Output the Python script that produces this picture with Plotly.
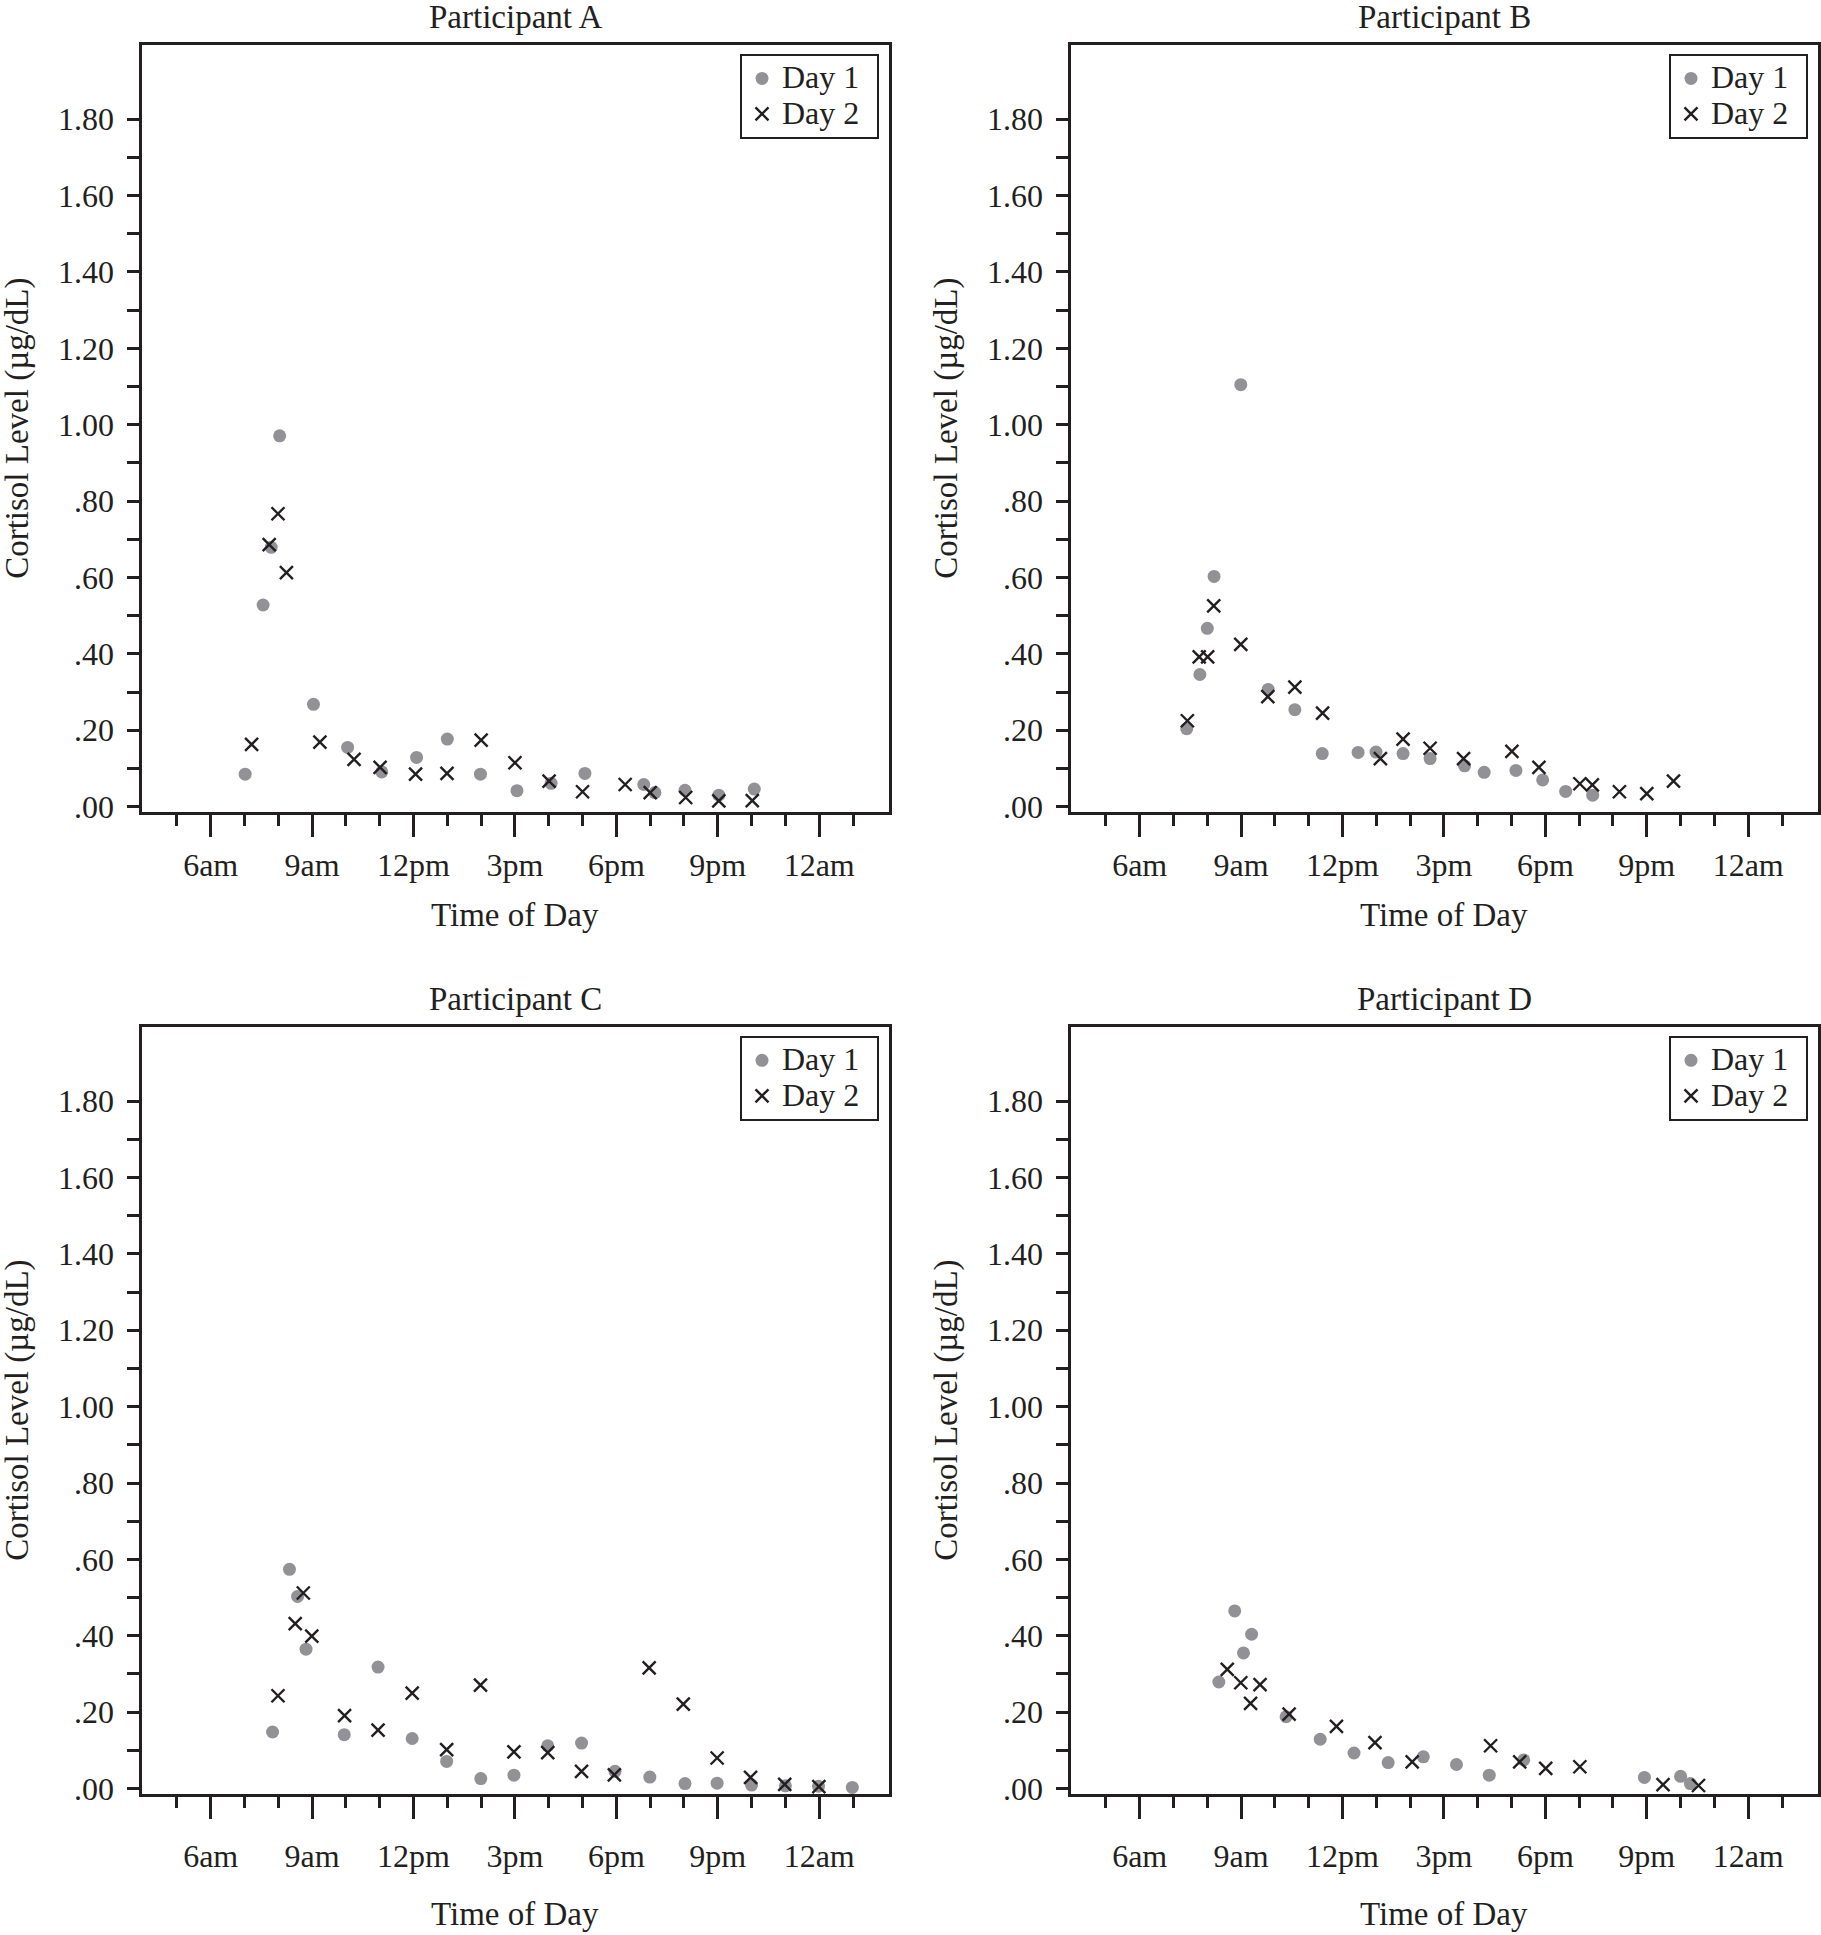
import plotly.graph_objects as go

# ---------------- data (time in hours of day, cortisol in µg/dL) ----------------
a_day1_time = [7.02, 7.55, 7.79, 8.04, 9.04, 10.05, 11.06, 12.09, 13.0, 13.98, 15.06, 16.07, 17.07, 18.81, 19.14, 20.03, 21.03, 22.08]
a_day1_val = [0.085, 0.528, 0.679, 0.971, 0.268, 0.155, 0.091, 0.129, 0.177, 0.085, 0.042, 0.061, 0.087, 0.058, 0.037, 0.043, 0.030, 0.046]
a_day2_time = [7.21, 7.73, 7.99, 8.24, 9.23, 10.24, 11.01, 12.06, 12.99, 14.0, 15.0, 16.01, 17.0, 18.26, 19.0, 20.05, 21.03, 22.02]
a_day2_val = [0.163, 0.686, 0.767, 0.613, 0.169, 0.124, 0.103, 0.085, 0.087, 0.174, 0.115, 0.067, 0.039, 0.058, 0.037, 0.024, 0.015, 0.016]

b_day1_time = [7.39, 7.78, 8.0, 8.20, 8.99, 9.80, 10.59, 11.40, 12.46, 12.99, 13.79, 14.59, 15.61, 16.19, 17.13, 17.92, 18.60, 19.40]
b_day1_val = [0.204, 0.346, 0.467, 0.603, 1.105, 0.307, 0.254, 0.139, 0.142, 0.143, 0.139, 0.126, 0.107, 0.090, 0.095, 0.070, 0.040, 0.030]
b_day2_time = [7.41, 7.76, 8.01, 8.19, 8.99, 9.79, 10.59, 11.41, 13.12, 13.79, 14.59, 15.58, 17.01, 17.81, 19.02, 19.39, 20.19, 21.0, 21.79]
b_day2_val = [0.225, 0.392, 0.392, 0.526, 0.425, 0.288, 0.313, 0.245, 0.126, 0.177, 0.153, 0.126, 0.145, 0.103, 0.060, 0.057, 0.039, 0.034, 0.067]

c_day1_time = [7.83, 8.33, 8.57, 8.82, 9.95, 10.95, 11.96, 12.98, 13.99, 14.97, 15.97, 16.97, 17.96, 18.99, 20.03, 20.98, 22.0, 23.0, 23.98, 24.98]
c_day1_val = [0.148, 0.574, 0.503, 0.365, 0.141, 0.318, 0.131, 0.071, 0.026, 0.035, 0.112, 0.119, 0.045, 0.030, 0.013, 0.014, 0.009, 0.007, 0.006, 0.003]
c_day2_time = [7.99, 8.50, 8.74, 8.99, 9.96, 10.95, 11.96, 12.98, 13.98, 14.97, 15.97, 16.97, 17.94, 18.97, 19.98, 20.98, 21.97, 22.98, 23.99]
c_day2_val = [0.243, 0.432, 0.512, 0.399, 0.191, 0.153, 0.250, 0.102, 0.271, 0.096, 0.094, 0.045, 0.036, 0.316, 0.221, 0.080, 0.029, 0.011, 0.005]

d_day1_time = [8.34, 8.81, 9.07, 9.31, 10.33, 11.34, 12.34, 13.35, 14.39, 15.37, 16.34, 17.36, 20.93, 22.0, 22.29]
d_day1_val = [0.279, 0.465, 0.355, 0.404, 0.188, 0.129, 0.093, 0.068, 0.083, 0.063, 0.035, 0.075, 0.029, 0.032, 0.013]
d_day2_time = [8.59, 8.99, 9.28, 9.56, 10.42, 11.82, 12.96, 14.06, 16.38, 17.24, 18.01, 19.02, 21.48, 22.53]
d_day2_val = [0.312, 0.277, 0.223, 0.272, 0.195, 0.163, 0.120, 0.070, 0.112, 0.070, 0.053, 0.057, 0.010, 0.008]

panel_titles = ["Participant A", "Participant B", "Participant C", "Participant D"]
series_names = ["Day 1", "Day 2"]

x_tick_vals = [6, 9, 12, 15, 18, 21, 24]
x_tick_text = ["6am", "9am", "12pm", "3pm", "6pm", "9pm", "12am"]
x_minor_vals = [5, 7, 8, 10, 11, 13, 14, 16, 17, 19, 20, 22, 23, 25]
y_tick_vals = [0.0, 0.2, 0.4, 0.6, 0.8, 1.0, 1.2, 1.4, 1.6, 1.8]
y_tick_text = [".00", ".20", ".40", ".60", ".80", "1.00", "1.20", "1.40", "1.60", "1.80"]
y_minor_vals = [0.1, 0.3, 0.5, 0.7, 0.9, 1.1, 1.3, 1.5, 1.7]

x_title = "Time of Day"
y_title = "Cortisol Level (µg/dL)"

# ---------------- layout geometry ----------------
W, H = 1821, 1935
FONT = "Liberation Serif, Times New Roman, serif"
INK = "#231f20"
GRAY = "#929296"

def px(v):  # horizontal pixel -> paper
    return v / W

def py(v):  # vertical pixel from top -> paper
    return 1 - v / H

# plot area (inner) pixel boxes: left, right, top, bottom
boxes = [
    (141.5, 888.5, 45.5, 817.5),
    (1070.5, 1817.5, 45.5, 817.5),
    (141.5, 888.5, 1033.5, 1805.5),
    (1070.5, 1817.5, 1033.5, 1805.5),
]
tick_standoff = [0, 0, 9, 9]
panel_title_y = [17, 17, 1005, 1005]
axis_title_y = [921, 921, 1926, 1926]

data = [
    (a_day1_time, a_day1_val, a_day2_time, a_day2_val),
    (b_day1_time, b_day1_val, b_day2_time, b_day2_val),
    (c_day1_time, c_day1_val, c_day2_time, c_day2_val),
    (d_day1_time, d_day1_val, d_day2_time, d_day2_val),
]

def legend_label(s):
    return '<span style="font-size:32px">' + s + '</span>\u00a0\u00a0'

fig = go.Figure()
annotations = []
layout_axes = {}

for i, (t1, v1, t2, v2) in enumerate(data):
    n = i + 1
    xa = "x" if n == 1 else f"x{n}"
    ya = "y" if n == 1 else f"y{n}"
    lg = "legend" if n == 1 else f"legend{n}"
    fig.add_trace(go.Scatter(
        x=t1, y=v1, mode="markers", name=legend_label(series_names[0]), xaxis=xa, yaxis=ya, legend=lg,
        marker=dict(symbol="circle", size=13, color=GRAY, line=dict(width=0)),
    ))
    fig.add_trace(go.Scatter(
        x=t2, y=v2, mode="markers", name=legend_label(series_names[1]), xaxis=xa, yaxis=ya, legend=lg,
        marker=dict(symbol="x-thin", size=13, color=INK, line=dict(width=2.4, color=INK)),
    ))

    L, R, T, B = boxes[i]
    xkey = "xaxis" if n == 1 else f"xaxis{n}"
    ykey = "yaxis" if n == 1 else f"yaxis{n}"
    layout_axes[xkey] = dict(
        domain=[px(L), px(R)], anchor=ya, range=[3.953, 26.05],
        showline=True, mirror=True, linewidth=3, linecolor=INK,
        showgrid=False, zeroline=False,
        tickmode="array", tickvals=x_tick_vals, ticktext=x_tick_text,
        ticks="outside", ticklen=22, tickwidth=3, tickcolor=INK,
        ticklabelstandoff=tick_standoff[i],
        tickfont=dict(family=FONT, size=32, color=INK),
        minor=dict(tickmode="array", tickvals=x_minor_vals, ticks="outside",
                   ticklen=11, tickwidth=3, tickcolor=INK, showgrid=False),
    )
    layout_axes[ykey] = dict(
        domain=[py(B), py(T)], anchor=xa, range=[-0.0151, 1.9938],
        showline=True, mirror=True, linewidth=3, linecolor=INK,
        showgrid=False, zeroline=False,
        tickmode="array", tickvals=y_tick_vals, ticktext=y_tick_text,
        ticks="outside", ticklen=12, tickwidth=3, tickcolor=INK,
        ticklabelstandoff=6,
        tickfont=dict(family=FONT, size=32, color=INK),
        minor=dict(tickmode="array", tickvals=y_minor_vals, ticks="outside",
                   ticklen=12, tickwidth=3, tickcolor=INK, showgrid=False),
    )

    cx = (L + R) / 2
    # panel title
    annotations.append(dict(text=panel_titles[i], x=px(cx), y=py(panel_title_y[i]), xref="paper", yref="paper",
                            xanchor="center", yanchor="middle", showarrow=False,
                            font=dict(family=FONT, size=33, color=INK)))
    # x axis title
    annotations.append(dict(text=x_title, x=px(cx), y=py(axis_title_y[i]), xref="paper", yref="paper",
                            xanchor="center", yanchor="middle", showarrow=False,
                            font=dict(family=FONT, size=33, color=INK)))
    # y axis title
    annotations.append(dict(text=y_title, x=px(L - 141.5 + 18), y=py((T + B) / 2), xref="paper", yref="paper",
                            xanchor="center", yanchor="middle", textangle=-90, showarrow=False,
                            font=dict(family=FONT, size=33, color=INK)))

    layout_axes[lg] = dict(
        x=px(R - 9.5), y=py(T + 8.5), xanchor="right", yanchor="top",
        bgcolor="white", bordercolor=INK, borderwidth=2,
        font=dict(family=FONT, size=25, color=INK),
        itemwidth=30, tracegroupgap=0,
    )

fig.update_layout(
    width=W, height=H, margin=dict(l=0, r=0, t=0, b=0),
    paper_bgcolor="white", plot_bgcolor="white",
    showlegend=True, annotations=annotations,
    **layout_axes,
)

fig.write_html("out.html", config={"displayModeBar": False},
               post_script="document.body.style.margin='0';")
